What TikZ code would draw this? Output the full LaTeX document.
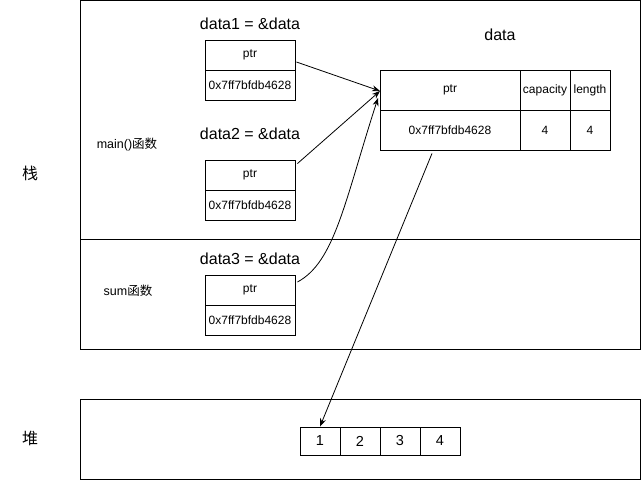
\documentclass[tikz,border=0pt]{standalone}
\usepackage{fontspec}
\setmainfont{Liberation Sans}
\newfontfamily\cjk{Noto Sans CJK SC}
\usetikzlibrary{arrows.meta}
\begin{document}
\begin{tikzpicture}[x=1pt,y=-1pt,
  cell/.style={draw,line width=0.9pt,minimum height=30pt,inner sep=0pt,font=\fontsize{12}{14}\selectfont},
  big/.style={font=\fontsize{16}{18}\selectfont,inner sep=0pt},
  small/.style={font=\fontsize{12.5}{14}\selectfont,inner sep=0pt},
  arr/.style={-{Stealth[length=8pt,width=6pt]},line width=0.8pt}]
\useasboundingbox (0,0) rectangle (641,481);
% frames
\draw[line width=1pt] (80.5,0.5) rectangle (640,350);
\draw[line width=1pt] (80.5,240) -- (640,240);
\draw[line width=1pt] (80.5,400) rectangle (640,480);
% side labels
\node[big] (stack) at (30,173) {\cjk 栈};
\node[big] (heap) at (30,438) {\cjk 堆};
\node[small] (mainf) at (127,145) {main()\cjk 函数};
\node[small] (sumf) at (128,291) {sum\cjk 函数};
% pointer boxes
\node[big] (l1) at (250,24) {data1 = \&data};
\node[cell,minimum width=90pt] (p1) at (250,55) {ptr};
\node[cell,minimum width=90pt] (a1) at (250,85) {0x7ff7bfdb4628};
\node[big] (l2) at (250,134) {data2 = \&data};
\node[cell,minimum width=90pt] (p2) at (250,175) {ptr};
\node[cell,minimum width=90pt] (a2) at (250,205) {0x7ff7bfdb4628};
\node[big] (l3) at (250,259) {data3 = \&data};
\node[cell,minimum width=90pt] (p3) at (250,290) {ptr};
\node[cell,minimum width=90pt] (a3) at (250,320) {0x7ff7bfdb4628};
% data struct
\node[big] (dl) at (500,35) {data};
\node[cell,minimum width=140pt,minimum height=40pt] (sp) at (450,90) {ptr};
\node[cell,minimum width=50pt,minimum height=40pt] (sc) at (545,90) {capacity};
\node[cell,minimum width=40pt,minimum height=40pt] (sl) at (590,90) {length};
\node[cell,minimum width=140pt,minimum height=40pt] (vp) at (450,130) {0x7ff7bfdb4628};
\node[cell,minimum width=50pt,minimum height=40pt] (vc) at (545,130) {4};
\node[cell,minimum width=40pt,minimum height=40pt] (vl) at (590,130) {4};
% heap cells
\foreach \i/\n in {1/h1,2/h2,3/h3,4/h4}{
  \node[cell,minimum width=40pt,minimum height=28pt,font=\fontsize{14.5}{16}\selectfont] (\n) at (280+40*\i,441) {\i};
}
% connectors
\coordinate (t1) at (380,91);
\coordinate (t3) at (378,98);
\draw[arr] (p1.east) ++(1,7) coordinate (s1) -- (t1);
\draw[arr] (p2.north east) ++(2,4) -- (t1);
\draw[arr] ([shift={(2,-8)}]p3.east) .. controls (335,262) and (345,200) .. (t3);
\draw[arr] ([shift={(-18,3)}]vp.south) -- (h1.north);
\end{tikzpicture}
\end{document}
